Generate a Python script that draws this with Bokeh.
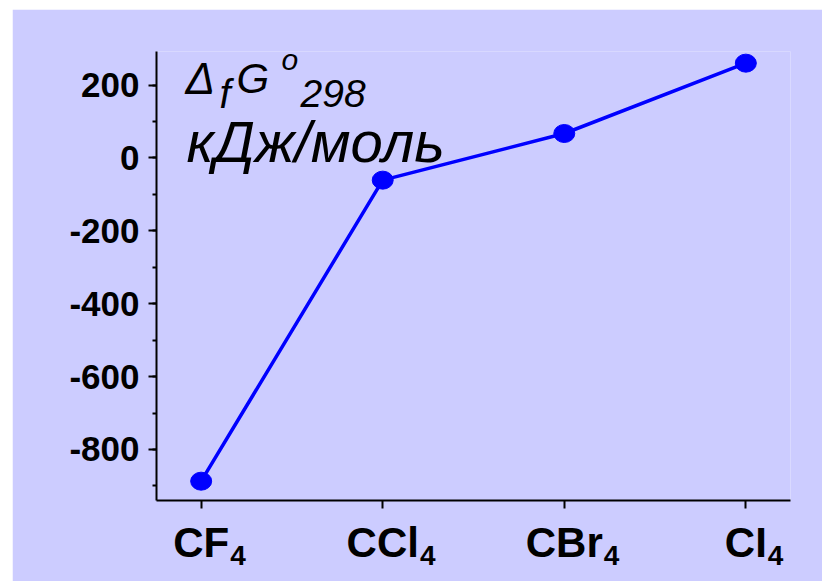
from bokeh.plotting import figure
from bokeh.models import Range1d, FixedTicker, SingleIntervalTicker, Label, ColumnDataSource, LinearAxis
from bokeh.embed import file_html
from bokeh.resources import INLINE

# ---- data ----
compounds = ["CF", "CCl", "CBr", "CI"]
subscripts = ["4", "4", "4", "4"]
dG = [-887, -61, 67, 260]
ytick_values = [-800, -600, -400, -200, 0, 200]
ytick_labels = ["-800", "-600", "-400", "-200", "0", "200"]

BG = "#CCCCFF"
FONT = "Liberation Sans"

x_lo, x_hi = -0.246, 3.246
y_lo, y_hi = -940, 292
W, H = 810, 572
BL, BR, BT, BB = 144, 32, 42, 81

p = figure(width=W, height=H, output_backend="svg", toolbar_location=None,
           x_range=Range1d(x_lo, x_hi), y_range=Range1d(y_lo, y_hi),
           min_border_left=BL, min_border_right=BR, min_border_top=BT, min_border_bottom=BB,
           margin=(9, 0, 0, 12))
p.background_fill_color = BG
p.border_fill_color = BG
p.outline_line_color = None
p.xgrid.visible = False
p.ygrid.visible = False

xs = list(range(len(compounds)))
src = ColumnDataSource(dict(x=xs, y=dG))
p.line("x", "y", source=src, line_color="#0000FF", line_width=3.5)
p.ellipse("x", "y", source=src, width=21, height=18, width_units="screen", height_units="screen",
          fill_color="#0000FF", line_color="#0000FF")

# y axis
ya = p.yaxis[0]
ya.ticker = SingleIntervalTicker(interval=200, num_minor_ticks=2)
ya.major_label_overrides = {v: s for v, s in zip(ytick_values, ytick_labels)}
ya.major_label_text_font = FONT
ya.major_label_text_font_style = "bold"
ya.major_label_text_font_size = "35px"
ya.major_label_text_color = "black"
ya.major_tick_out = 8
ya.major_tick_in = 0
ya.minor_tick_out = 4
ya.minor_tick_in = 0
ya.major_label_standoff = 9
ya.axis_line_width = 2
ya.major_tick_line_width = 2
ya.minor_tick_line_width = 2

# x axis with formula main part
main_size, sub_size = 42, 28
xa = p.xaxis[0]
xa.ticker = FixedTicker(ticks=xs, minor_ticks=[])
xa.major_label_overrides = {i: m for i, m in enumerate(compounds)}
xa.major_label_text_font = FONT
xa.major_label_text_font_style = "bold"
xa.major_label_text_font_size = f"{main_size}px"
xa.major_label_text_color = "black"
xa.major_label_standoff = 10
xa.major_tick_out = 8
xa.major_tick_in = 0
xa.minor_tick_out = 0
xa.axis_line_width = 2
xa.major_tick_line_width = 2

# second, line-less axis carrying the subscripts right after each formula
arial_bold_w = {"C": 722, "F": 611, "l": 278, "I": 278, "B": 722, "r": 389, "4": 556}
px_per_unit = (W - BL - BR) / (x_hi - x_lo)
sub_pos = []
for i, (m, s) in enumerate(zip(compounds, subscripts)):
    wm = sum(arial_bold_w[c] for c in m) * main_size / 1000
    ws = sum(arial_bold_w[c] for c in s) * sub_size / 1000
    sub_pos.append(i + (wm / 2 + ws / 2 + 1) / px_per_unit)
sa = LinearAxis(ticker=FixedTicker(ticks=sub_pos, minor_ticks=[]))
sa.major_label_overrides = {v: s for v, s in zip(sub_pos, subscripts)}
sa.major_label_text_font = FONT
sa.major_label_text_font_style = "bold"
sa.major_label_text_font_size = f"{sub_size}px"
sa.major_label_text_color = "black"
sa.major_label_standoff = -23
sa.axis_line_color = None
sa.major_tick_line_color = None
sa.minor_tick_line_color = None
sa.major_tick_out = 0
sa.major_tick_in = 0
sa.minor_tick_out = 0
sa.minor_tick_in = 0
p.add_layout(sa, "below")

# quantity label
title_parts = [
    ("\u0394", 29, -27, 44),
    ("f", 63, -42, 40),
    ("G", 80, -27, 42),
    ("o", 125, -8, 30),
    ("298", 144, -42, 39),
    ("кДж/моль", 30, -90, 58),
]
for t, dx, dy, fs in title_parts:
    p.add_layout(Label(x=x_lo, y=y_hi, x_offset=dx, y_offset=dy, text=t,
                       text_font=FONT, text_font_style="italic", text_font_size=f"{fs}px",
                       text_align="left", text_baseline="alphabetic", text_color="black"))

open("out.html", "w").write(file_html(p, INLINE))
